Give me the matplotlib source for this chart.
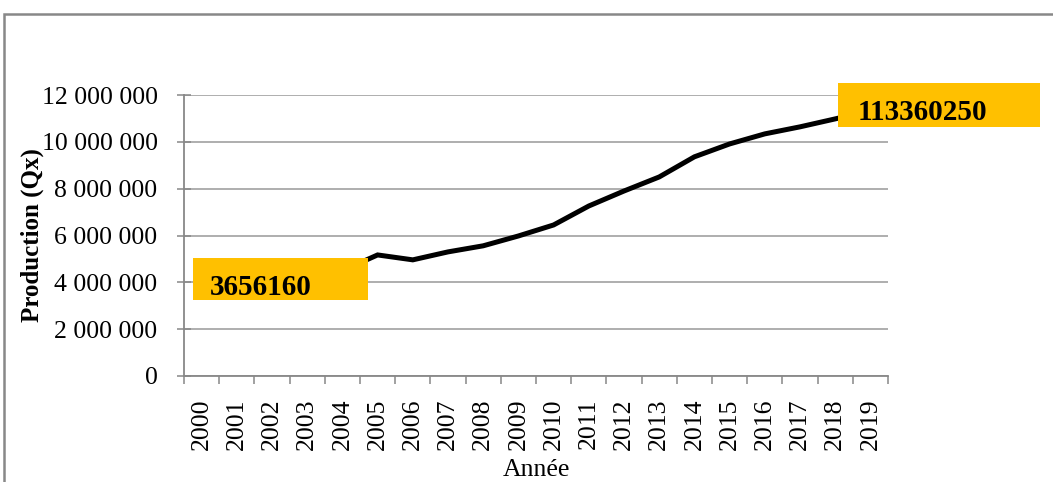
import matplotlib
matplotlib.use("Agg")
import matplotlib.pyplot as plt
from matplotlib.patches import Rectangle
from matplotlib.ticker import FuncFormatter, MultipleLocator

years = [str(y) for y in range(2000, 2020)]
production = [3656160, 3850000, 4050000, 4250000, 4500000, 5170000, 4960000,
              5300000, 5560000, 5980000, 6450000, 7260000, 7900000, 8500000,
              9360000, 9910000, 10340000, 10640000, 10980000, 11336025]
first_label = "3656160"
last_label = "113360250"

plt.rcParams['font.family'] = ['Liberation Serif', 'DejaVu Serif']

fig = plt.figure(figsize=(10.53, 4.82), dpi=100)
ax = fig.add_axes([184 / 1053, 106 / 482, 704 / 1053, 281 / 482])

x = list(range(len(years)))
ax.plot(x, production, color='black', lw=3.6, solid_joinstyle='miter', zorder=3)

ax.set_xlim(-0.5, len(years) - 0.5)
ax.set_ylim(0, 12000000)
ax.yaxis.set_major_locator(MultipleLocator(2000000))
ax.yaxis.set_major_formatter(FuncFormatter(lambda v, p: f"{int(v):,}".replace(",", " ")))
ax.grid(axis='y', color='#999999', lw=1.1)
ax.set_axisbelow(True)

ax.set_xticks(x)
ax.set_xticklabels(years, rotation=90)
ax.set_xticks([i - 0.5 for i in range(len(years) + 1)], minor=True)
ax.tick_params(axis='x', which='major', length=0, pad=16, labelsize=18.5)
ax.tick_params(axis='x', which='minor', length=6, width=1.1, color='#888888', direction='out')
ax.tick_params(axis='y', length=10, width=1.1, color='#888888', direction='inout', pad=14, labelsize=18.5)

for s in ['top', 'right']:
    ax.spines[s].set_visible(False)
for s in ['left', 'bottom']:
    ax.spines[s].set_color('#888888')
    ax.spines[s].set_linewidth(1.3)

ax.set_ylabel("Production (Qx)", fontsize=18, fontweight='bold')
ax.yaxis.set_label_coords(-0.199, 0.5)
ax.set_xlabel("Année", fontsize=18.5, va='center')
ax.xaxis.set_label_coords(0.5, -0.333)

# value labels in orange boxes, placed around the first and last points
orange = '#FFC000'
x0, y0 = x[0], production[0]
ax.add_patch(Rectangle((x0 - 0.24, y0 - 406000), 4.97, 1790000, facecolor=orange,
                       edgecolor='none', zorder=4, clip_on=False))
ax.text(x0 + 0.24, y0 - 196000, first_label, fontsize=21, fontweight='bold',
        va='baseline', ha='left', zorder=5)

x1, y1 = x[-1], production[-1]
ax.add_patch(Rectangle((x1 - 0.92, y1 - 696000), 5.74, 1880000, facecolor=orange,
                       edgecolor='none', zorder=4, clip_on=False))
ax.text(x1 - 0.35, y1 - 396000, last_label, fontsize=21, fontweight='bold',
        va='baseline', ha='left', zorder=5, clip_on=False)

# chart area border (cut by the image edge on the right and bottom)
fig.patches.append(Rectangle((4 / 1053, -0.1), 1.2, 1.1 - 14 / 482, transform=fig.transFigure,
                             fill=False, edgecolor='#888888', lw=1.8))

fig.savefig("out.png", dpi=100)
